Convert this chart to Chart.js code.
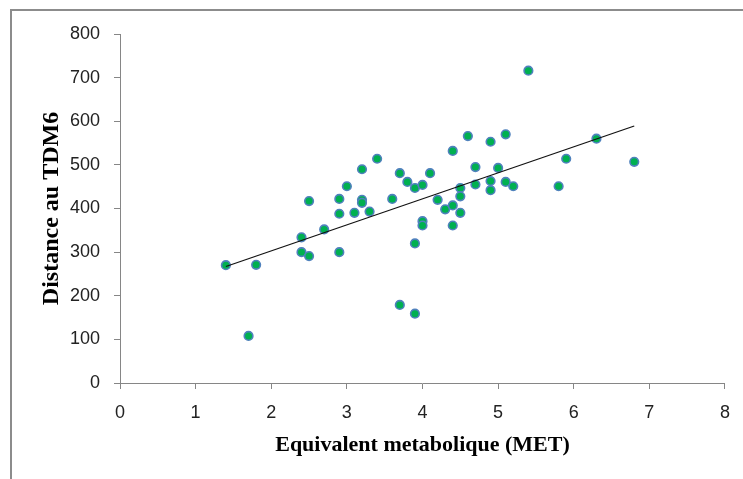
<!DOCTYPE html>
<html>
<head>
<meta charset="utf-8">
<script src="https://cdn.jsdelivr.net/npm/chart.js@4/dist/chart.umd.min.js"></script>
<style>
    html, body { margin: 0; padding: 0; background: #fff; overflow: hidden; }
    #frame {
        position: absolute; left: 10px; top: 9px;
        width: 900px; height: 700px;
        border: 2px solid #8c8c8c;
    }
    #chart { position: absolute; left: 0; top: 0; }
</style>
</head>
<body>
<div id="frame"></div>
<canvas id="chart" width="743" height="479"></canvas>
<script>
// MET values (x) and 6MWT distances (y)
const metValues = [1.4, 1.8, 1.7, 2.4, 2.4, 2.5, 2.5, 2.7, 2.9, 2.9, 2.9, 3.0, 3.1, 3.2, 3.2, 3.2, 3.3, 3.4,
    3.6, 3.7, 3.7, 3.8, 3.9, 3.9, 3.9, 4.0, 4.0, 4.0, 4.1, 4.2, 4.3, 4.4, 4.4, 4.4, 4.5, 4.5, 4.5,
    4.6, 4.7, 4.7, 4.9, 4.9, 4.9, 5.0, 5.1, 5.1, 5.2, 5.4, 5.8, 5.9, 6.3, 6.8];
const distances = [270, 271, 108, 334, 300, 417, 291, 352, 422, 388, 300, 451, 390, 490, 420, 413, 393, 514,
    422, 481, 179, 461, 447, 320, 159, 454, 371, 361, 481, 420, 398, 532, 407, 361, 447, 428, 390,
    566, 495, 455, 553, 463, 442, 493, 570, 461, 451, 716, 451, 514, 560, 507];

// trend line ends
const trendX = [1.4, 6.8];
const trendY = [267, 589];

const xTitle = 'Equivalent metabolique (MET)';
const yTitle = 'Distance au TDM6';

const axisGray = '#868686';
const tickFont = { family: 'Liberation Sans', size: 18, lineHeight: 1.2 };

const points = metValues.map((x, i) => ({ x: x, y: distances[i] }));
const trend = trendX.map((x, i) => ({ x: x, y: trendY[i] }));

new Chart(document.getElementById('chart'), {
    type: 'scatter',
    data: {
        datasets: [
            {
                type: 'line',
                data: trend,
                borderColor: '#111',
                borderWidth: 1.2,
                pointRadius: 0,
                fill: false,
                order: 0
            },
            {
                data: points,
                backgroundColor: '#00b050',
                borderColor: '#4f81bd',
                borderWidth: 1.6,
                pointRadius: 4.3,
                order: 1
            }
        ]
    },
    options: {
        responsive: false,
        animation: false,
        events: [],
        layout: { padding: { left: 0, top: 34, right: 17, bottom: 0 } },
        plugins: { legend: { display: false }, tooltip: { enabled: false } },
        scales: {
            x: {
                type: 'linear',
                min: 0,
                max: 8,
                afterFit: s => { s.height = 96; },
                ticks: { stepSize: 1, color: '#222', font: tickFont, padding: 13 },
                grid: { drawOnChartArea: false, color: axisGray, tickLength: 6 },
                border: { color: axisGray, width: 1 },
                title: {
                    display: true,
                    text: xTitle,
                    color: '#000',
                    font: { family: 'Liberation Serif', size: 22, weight: 'bold', lineHeight: 1.2 },
                    padding: { top: 0, bottom: 20 }
                }
            },
            y: {
                min: 0,
                max: 800,
                afterFit: s => { s.width = 120; },
                ticks: { stepSize: 100, color: '#222', font: tickFont, padding: 14 },
                grid: { drawOnChartArea: false, color: axisGray, tickLength: 6 },
                border: { color: axisGray, width: 1 },
                title: {
                    display: true,
                    text: yTitle,
                    color: '#000',
                    font: { family: 'Liberation Serif', size: 24, weight: 'bold', lineHeight: 1.2 },
                    padding: { top: 37, bottom: 0 }
                }
            }
        }
    }
});
</script>
</body>
</html>
